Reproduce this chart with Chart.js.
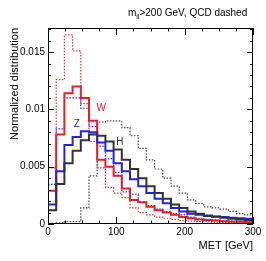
<!DOCTYPE html>
<html>
<head>
<meta charset="utf-8">
<title>MET distributions</title>
<script src="https://cdn.jsdelivr.net/npm/chart.js@4.4.1/dist/chart.umd.min.js"></script>
<style>
  html, body { margin: 0; padding: 0; background: #fff; }
  #wrap { width: 266px; height: 261px; }
</style>
</head>
<body>
<div id="wrap"><canvas id="met-chart" width="266" height="261"></canvas></div>
<script>
// Bin edges of the MET histograms (GeV), 12 GeV bins
const metEdges = [0, 12, 24, 36, 48, 60, 72, 84, 96, 108, 120, 132, 144, 156, 168,
  180, 192, 204, 216, 228, 240, 252, 264, 276, 288, 300];

// Normalized bin contents, one value per bin
const wSignal = [0.0029, 0.0078, 0.0114, 0.0120, 0.0110, 0.0090, 0.0056, 0.0050, 0.0042,
  0.0031, 0.0021, 0.0019, 0.0015, 0.0012, 0.0010, 0.0008, 0.0006, 0.0005, 0.0004,
  0.00035, 0.0003, 0.00025, 0.0002, 0.0002, 0.00015];
const zSignal = [0.0017, 0.0046, 0.0069, 0.0076, 0.0081, 0.0080, 0.0071, 0.0064, 0.0053,
  0.0046, 0.0039, 0.0033, 0.0027, 0.0022, 0.0018, 0.0014, 0.0011, 0.0009, 0.0008,
  0.0007, 0.00065, 0.0006, 0.00055, 0.0005, 0.00045];
const hSignal = [0.0012, 0.0035, 0.0053, 0.0064, 0.0073, 0.0078, 0.0077, 0.0072, 0.0065,
  0.0056, 0.0048, 0.0040, 0.0033, 0.0027, 0.0022, 0.0017, 0.0014, 0.0011, 0.0009,
  0.00075, 0.00063, 0.00054, 0.00046, 0.0004, 0.00034];
const wQcd = [0.0049, 0.0126, 0.0165, 0.0151, 0.0105, 0.0072, 0.0049, 0.0032, 0.0027,
  0.0023, 0.0014, 0.0010, 0.0008, 0.0006, 0.0005, 0.0004, 0.0003, 0.00025, 0.0002,
  0.0002, 0.00015, 0.00012, 0.0001, 0.0001, 0.00008];
const zQcd = [0.00345, 0.0083, 0.0110, 0.0110, 0.0101, 0.0085, 0.0068, 0.0057, 0.0045,
  0.0028, 0.0026, 0.0019, 0.0016, 0.0013, 0.0011, 0.0009, 0.0008, 0.0006, 0.0005,
  0.0004, 0.00035, 0.0003, 0.00025, 0.0002, 0.0002];
const hQcd = [0.0, 0.0001, 0.0002, 0.0002, 0.0014, 0.0042, 0.0089, 0.0090, 0.0090,
  0.0084, 0.0077, 0.0066, 0.0056, 0.0048, 0.0040, 0.0033, 0.0027, 0.0021, 0.0018,
  0.0015, 0.0014, 0.0013, 0.0011, 0.0009, 0.0008];

// Axis ticks
const xMajorTicks = [0, 100, 200, 300];
const yMajorTicks = [0, 0.005, 0.01, 0.015];

const FONT = '"Liberation Sans", Arial, sans-serif';

/**
 * Turn bin contents into step points at the bin edges
 */
function histPoints(values) {
  return metEdges.map((edge, i) => ({ x: edge, y: values[Math.min(i, values.length - 1)] }));
}

/**
 * ROOT-like frame: box, inward ticks on all four sides, header text
 * and the W / Z / H curve labels
 */
const rootFramePlugin = {
  id: 'rootFrame',
  afterDraw(chart) {
    const { ctx, chartArea: area, scales: { x, y } } = chart;
    ctx.save();
    ctx.strokeStyle = '#000';
    ctx.lineWidth = 1;
    ctx.strokeRect(area.left + 0.5, area.top + 0.5, area.right - area.left - 1, area.bottom - area.top - 1);

    ctx.beginPath();
    // x ticks every 25 GeV, long ones on the labelled values
    for (let v = 0; v <= 300; v += 25) {
      const px = Math.round(x.getPixelForValue(v)) + 0.5;
      const len = xMajorTicks.includes(v) ? 7 : 3.5;
      ctx.moveTo(px, area.bottom); ctx.lineTo(px, area.bottom - len);
      ctx.moveTo(px, area.top); ctx.lineTo(px, area.top + len);
    }
    // y ticks every 0.001
    for (let i = 0; i <= 17; i++) {
      const py = Math.round(y.getPixelForValue(i * 0.001)) + 0.5;
      const len = i % 5 === 0 ? 6 : 3;
      ctx.moveTo(area.left, py); ctx.lineTo(area.left + len, py);
      ctx.moveTo(area.right, py); ctx.lineTo(area.right - len, py);
    }
    ctx.stroke();

    // Header: m_ll>200 GeV, QCD dashed
    ctx.fillStyle = '#000';
    ctx.textBaseline = 'alphabetic';
    ctx.textAlign = 'left';
    let tx = 128;
    ctx.font = '10px ' + FONT;
    ctx.fillText('m', tx, 16);
    tx += ctx.measureText('m').width;
    ctx.font = '7px ' + FONT;
    ctx.fillText('ll', tx, 18.5);
    tx += ctx.measureText('ll').width;
    ctx.font = '10px ' + FONT;
    ctx.fillText('>200 GeV, QCD dashed', tx, 16);

    // Curve labels, placed in data coordinates
    const labels = [
      { text: 'W', met: 78, val: 0.0101, color: '#e02020' },
      { text: 'Z', met: 42, val: 0.0087, color: '#2020e0' },
      { text: 'H', met: 105, val: 0.0071, color: '#333' },
    ];
    ctx.font = '10px ' + FONT;
    ctx.textAlign = 'center';
    ctx.textBaseline = 'middle';
    labels.forEach(l => {
      ctx.fillStyle = l.color;
      ctx.fillText(l.text, x.getPixelForValue(l.met), y.getPixelForValue(l.val));
    });
    ctx.restore();
  }
};

function lineSet(label, values, color, dotted) {
  return {
    label: label,
    data: histPoints(values),
    borderColor: color,
    borderWidth: dotted ? 1.2 : 2,
    borderDash: dotted ? [1.5, 1.5] : [],
    stepped: 'before',
    pointRadius: 0,
    fill: false,
  };
}

new Chart(document.getElementById('met-chart'), {
  type: 'line',
  data: {
    datasets: [
      lineSet('H', hSignal, '#333333', false),
      lineSet('Z', zSignal, '#2222e6', false),
      lineSet('W', wSignal, '#e42024', false),
      lineSet('H QCD', hQcd, '#444444', true),
      lineSet('Z QCD', zQcd, '#2828eb', true),
      lineSet('W QCD', wQcd, '#eb3232', true),
    ]
  },
  options: {
    responsive: false,
    animation: false,
    devicePixelRatio: 1,
    layout: { padding: { left: 0, right: 13, top: 28, bottom: 0 } },
    plugins: { legend: { display: false }, tooltip: { enabled: false } },
    scales: {
      x: {
        type: 'linear',
        min: 0,
        max: 300,
        grid: { display: false, drawTicks: false },
        border: { display: false },
        ticks: {
          stepSize: 100,
          autoSkip: false,
          maxRotation: 0,
          padding: 2,
          color: '#000',
          font: { family: FONT, size: 10 },
          callback: v => xMajorTicks.includes(v) ? String(v) : ''
        },
        title: {
          display: true,
          text: 'MET [GeV]',
          align: 'end',
          color: '#000',
          font: { family: FONT, size: 11 },
          padding: { top: 0, bottom: 8 }
        },
        afterFit: scale => { scale.height = 37; }
      },
      y: {
        min: 0,
        max: 0.0171,
        grid: { display: false, drawTicks: false },
        border: { display: false },
        ticks: {
          stepSize: 0.005,
          includeBounds: false,
          padding: 3,
          color: '#000',
          font: { family: FONT, size: 10 },
          callback: v => {
            const r = parseFloat(v.toFixed(4));
            return yMajorTicks.includes(r) ? String(r) : '';
          }
        },
        title: {
          display: true,
          text: 'Normalized distribution',
          align: 'end',
          color: '#000',
          font: { family: FONT, size: 11 },
          padding: { top: 8, bottom: 0 }
        },
        afterFit: scale => { scale.width = 48; }
      }
    }
  },
  plugins: [rootFramePlugin]
});
</script>
</body>
</html>
